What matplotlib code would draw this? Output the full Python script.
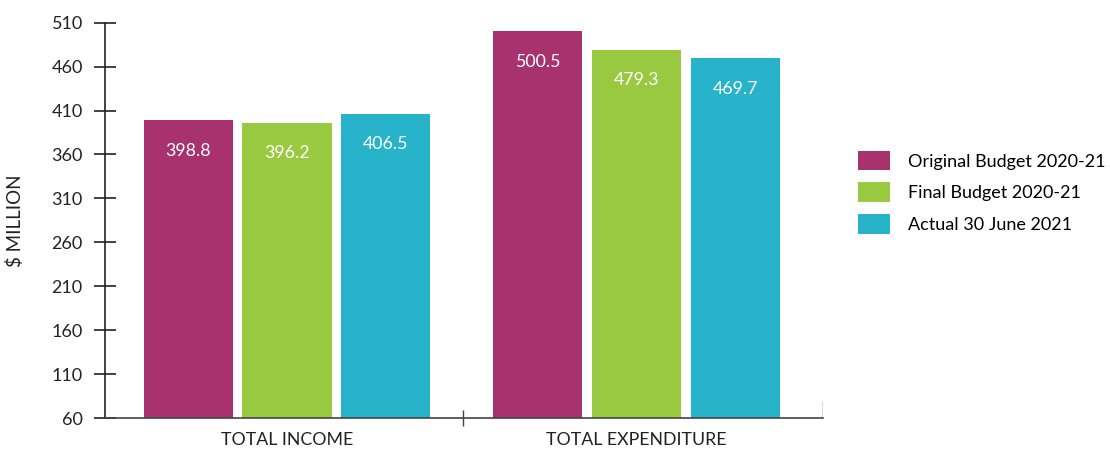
import matplotlib
matplotlib.use("Agg")
import matplotlib.pyplot as plt
import numpy as np

plt.rcParams["font.family"] = ["Lato", "DejaVu Sans"]

categories = ["TOTAL INCOME", "TOTAL EXPENDITURE"]
series_names = ["Original Budget 2020-21", "Final Budget 2020-21", "Actual 30 June 2021"]
original = [398.8, 500.5]
final = [396.2, 479.3]
actual = [406.5, 469.7]
colors = ["#A8326E", "#99C940", "#27B4CA"]
yticks = list(range(60, 511, 50))

fig = plt.figure(figsize=(11.1, 4.5), dpi=100)
ax = fig.add_axes([0.0946, 0.0711, 0.6468, 0.8785])

x = np.arange(len(categories))
width = 0.255
offsets = [-0.283, 0.0, 0.283]
for vals, name, col, off in zip([original, final, actual], series_names, colors, offsets):
    bars = ax.bar(x + off, vals, width=width, bottom=0, color=col, label=name, zorder=2)
    for b, v in zip(bars, vals):
        ax.annotate(f"{v:.1f}", (b.get_x() + b.get_width() / 2, v),
                    xytext=(0, -22), textcoords="offset points",
                    ha="center", va="center", color="white", fontsize=12.8)

ax.set_ylim(60, 510)
ax.set_xlim(-0.521, 1.534)
ax.set_yticks(yticks)
ax.set_xticks(x)
ax.set_xticklabels(categories)
# separator between the two groups
ax.set_xticks([0.504], minor=True)
ax.tick_params(axis="x", which="major", length=0, pad=10, labelsize=12.8, colors="#222222")
ax.tick_params(axis="x", which="minor", direction="inout", length=12, width=1, color="#444444")
ax.tick_params(axis="y", direction="inout", length=16, width=1.2, pad=8,
               labelsize=13, colors="#222222")
ax.axvline(ax.get_xlim()[1], ymin=0, ymax=0.04, color="#444444", lw=1)

for side in ["top", "right"]:
    ax.spines[side].set_visible(False)
ax.spines["left"].set_color("#222222")
ax.spines["left"].set_linewidth(1.2)
ax.spines["bottom"].set_color("#444444")
ax.spines["bottom"].set_linewidth(1.2)

fig.text(0.0135, 0.51, "$ MILLION", rotation=90, ha="center", va="center",
         fontsize=13.5, color="#222222")

ax.legend(loc="upper left", bbox_to_anchor=(0.773, 0.665), bbox_transform=fig.transFigure,
          frameon=False, fontsize=13, handlelength=1.78, handleheight=1.28,
          handletextpad=1.0, labelspacing=0.68, borderpad=0, borderaxespad=0)

fig.savefig("out.png", dpi=100)
